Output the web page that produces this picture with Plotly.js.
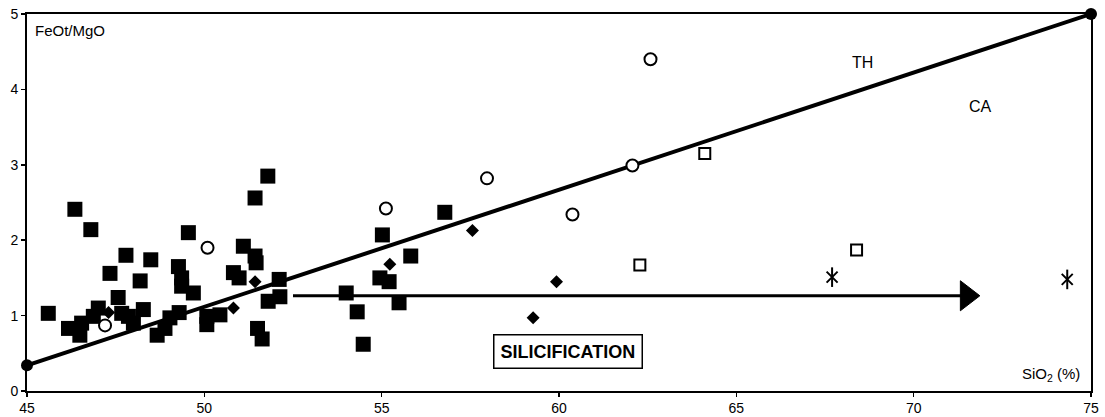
<!DOCTYPE html>
<html>
<head>
<meta charset="utf-8">
<script src="https://cdn.plot.ly/plotly-3.0.1.min.js"></script>
<style>
  html, body { margin: 0; padding: 0; background: #fff; }
  #chart { width: 1105px; height: 417px; }
</style>
</head>
<body>
<div id="chart"></div>
<script>
// Basaltic / andesitic samples (filled squares)
const basaltSiO2 = [45.6, 46.35, 46.8, 47.34, 47.79, 48.49, 48.19, 47.57, 49.55, 49.27,
  49.36, 49.36, 49.69, 51.1, 51.43, 51.79, 51.43, 51.46, 50.82, 50.98,
  52.11, 52.13, 51.8, 51.5, 51.63, 49.29, 49.03, 50.07, 50.44, 50.07,
  48.89, 48.67, 46.17, 46.49, 46.54, 46.87, 47.01, 47.67, 47.86, 48.0,
  48.28, 55.02, 56.78, 55.82, 54.95, 55.21, 54.0, 55.49, 54.31, 54.48];
const basaltRatio = [1.03, 2.41, 2.14, 1.56, 1.80, 1.74, 1.46, 1.24, 2.10, 1.65,
  1.50, 1.39, 1.30, 1.92, 2.56, 2.85, 1.79, 1.70, 1.57, 1.50,
  1.48, 1.25, 1.19, 0.83, 0.69, 1.04, 0.97, 0.99, 1.01, 0.88,
  0.83, 0.74, 0.83, 0.74, 0.90, 0.99, 1.10, 1.03, 0.99, 0.90,
  1.08, 2.07, 2.37, 1.79, 1.50, 1.45, 1.30, 1.17, 1.05, 0.62];

// Filled diamonds
const diamondSiO2 = [47.3, 51.43, 50.82, 55.23, 57.56, 59.93, 59.27];
const diamondRatio = [1.04, 1.45, 1.10, 1.68, 2.13, 1.45, 0.97];

// Open circles
const circleSiO2 = [47.2, 50.09, 55.12, 57.97, 60.38, 62.07, 62.58];
const circleRatio = [0.87, 1.90, 2.42, 2.82, 2.34, 2.99, 4.40];

// Open squares
const openSqSiO2 = [62.28, 64.11, 68.39];
const openSqRatio = [1.67, 3.15, 1.87];

// Asterisks
const starSiO2 = [67.70, 74.33];
const starRatio = [1.51, 1.48];

// TH / CA dividing line (Miyashiro)
const divideSiO2 = [45, 75];
const divideRatio = [0.34, 5.0];

// Silicification trend arrow: shaft and head position
const trendSiO2 = [52.5, 71.5];
const trendRatio = [1.263, 1.263];

const xTicks = [45, 50, 55, 60, 65, 70, 75];
const yTicks = [0, 1, 2, 3, 4, 5];

const FONT = 'Liberation Sans, Arial, sans-serif';

const traces = [
  {
    x: divideSiO2, y: divideRatio, mode: 'lines+markers', type: 'scatter',
    line: { color: '#000', width: 4 },
    marker: { symbol: 'circle', size: 12, color: '#000', opacity: 1 },
    cliponaxis: false, hoverinfo: 'skip'
  },
  {
    x: trendSiO2, y: trendRatio, mode: 'lines', type: 'scatter',
    line: { color: '#000', width: 3 },
    hoverinfo: 'skip'
  },
  {
    x: trendSiO2.slice(1), y: trendRatio.slice(1), mode: 'markers', type: 'scatter',
    marker: { symbol: 'triangle-right', size: 26, color: '#000', opacity: 1,
              line: { color: '#000', width: 1 } },
    hoverinfo: 'skip'
  },
  {
    x: basaltSiO2, y: basaltRatio, mode: 'markers', type: 'scatter',
    marker: { symbol: 'square', size: 15, color: '#000', opacity: 1 }
  },
  {
    x: diamondSiO2, y: diamondRatio, mode: 'markers', type: 'scatter',
    marker: { symbol: 'diamond', size: 10, color: '#000', opacity: 1 }
  },
  {
    x: circleSiO2, y: circleRatio, mode: 'markers', type: 'scatter',
    marker: { symbol: 'circle', size: 12, color: '#fff', opacity: 1, line: { color: '#000', width: 2 } }
  },
  {
    x: openSqSiO2, y: openSqRatio, mode: 'markers', type: 'scatter',
    marker: { symbol: 'square', size: 11, color: '#fff', opacity: 1, line: { color: '#000', width: 2 } }
  },
  {
    x: starSiO2, y: starRatio, mode: 'markers', type: 'scatter',
    marker: { symbol: 'x-thin-open', size: 11, color: '#000', opacity: 1, line: { color: '#000', width: 2 } }
  },
  {
    x: starSiO2, y: starRatio, mode: 'markers', type: 'scatter',
    marker: { symbol: 'line-ns-open', size: 14, color: '#000', opacity: 1, line: { color: '#000', width: 2 } }
  }
];

const layout = {
  width: 1105, height: 417,
  margin: { l: 27, r: 14, t: 14, b: 26 },
  paper_bgcolor: '#fff', plot_bgcolor: '#fff',
  showlegend: false,
  font: { family: FONT, size: 14, color: '#000' },
  xaxis: {
    range: [45, 75], tickvals: xTicks, ticktext: xTicks.map(String),
    showgrid: false, zeroline: false,
    showline: true, linecolor: '#000', linewidth: 2, mirror: true,
    ticks: 'outside', ticklen: 4, tickwidth: 1.5, tickcolor: '#000',
    ticklabelstandoff: -1,
    tickfont: { family: FONT, size: 14, color: '#000' }
  },
  yaxis: {
    range: [0, 5], tickvals: yTicks, ticktext: yTicks.map(String),
    showgrid: false, zeroline: false,
    showline: true, linecolor: '#000', linewidth: 2, mirror: true,
    ticks: 'outside', ticklen: 4, tickwidth: 1.5, tickcolor: '#000',
    tickfont: { family: FONT, size: 14, color: '#000' }
  },
  annotations: [
    { xref: 'paper', yref: 'paper', x: 0.006, y: 0.985, xanchor: 'left', yanchor: 'top',
      text: 'FeOt/MgO', showarrow: false, font: { family: FONT, size: 15, color: '#000' } },
    { xref: 'paper', yref: 'paper', x: 0.992, y: 0.012, xanchor: 'right', yanchor: 'bottom',
      text: 'SiO<sub>2</sub> (%)', showarrow: false, font: { family: FONT, size: 15, color: '#000' } },
    { x: 68.57, y: 4.36, text: 'TH', showarrow: false, font: { family: FONT, size: 16, color: '#000' } },
    { x: 71.88, y: 3.77, text: 'CA', showarrow: false, font: { family: FONT, size: 16, color: '#000' } },
    { x: 60.25, y: 0.53, text: '<b>SILICIFICATION</b>', showarrow: false,
      font: { family: FONT, size: 18, color: '#000' },
      bordercolor: '#000', borderwidth: 1.5, borderpad: 6, bgcolor: '#fff' }
  ]
};

Plotly.newPlot('chart', traces, layout, { staticPlot: true, displayModeBar: false });
</script>
</body>
</html>
